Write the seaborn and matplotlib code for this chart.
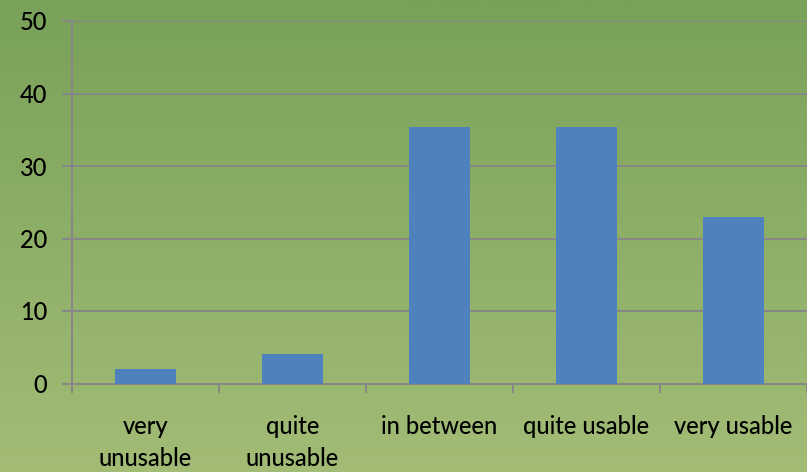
import numpy as np
import pandas as pd
import matplotlib
matplotlib.use("Agg")
import matplotlib.pyplot as plt
import seaborn as sns
from matplotlib.colors import LinearSegmentedColormap

categories = ["very\nunusable", "quite\nunusable", "in between", "quite usable", "very usable"]
values = [2.0, 4.1, 35.4, 35.4, 22.9]
y_ticks = [0, 10, 20, 30, 40, 50]

df = pd.DataFrame({"category": categories, "value": values})

sns.set_theme(style="white")
plt.rcParams["font.family"] = ["Lato", "DejaVu Sans"]

fig = plt.figure(figsize=(8.07, 4.72), dpi=100)

# green vertical gradient behind everything
bg = fig.add_axes([0, 0, 1, 1], zorder=0)
grad = np.linspace(0, 1, 256).reshape(-1, 1)
cmap = LinearSegmentedColormap.from_list("bg", ["#79a159", "#a2bc76"])
bg.imshow(grad, aspect="auto", cmap=cmap, extent=[0, 1, 0, 1], origin="upper")
bg.set_axis_off()

ax = fig.add_axes([72 / 807, 88.5 / 472, 1 - 72 / 807, 362.5 / 472], zorder=1)
ax.set_facecolor("none")

sns.barplot(data=df, x="category", y="value", color="#4f81bd", width=0.41,
            saturation=1, linewidth=0, ax=ax, zorder=3)

grid_c = "#878787"
ax.set_ylim(0, 50)
ax.set_xlim(-0.5, len(categories) - 0.5)
ax.set_yticks(y_ticks)
ax.set_yticklabels([str(t) for t in y_ticks], fontsize=17, color="black",
                   fontweight="medium")
ax.yaxis.grid(True, color=grid_c, linewidth=1.4, zorder=0)
ax.set_axisbelow(True)

# category separators as major ticks, labels on minor ticks
ax.set_xticks(np.arange(-0.5, len(categories) + 0.5, 1.0))
ax.set_xticklabels([])
ax.set_xticks(np.arange(len(categories)), minor=True)
ax.set_xticklabels(categories, minor=True, fontsize=17, linespacing=1.45,
                   color="black", fontweight="medium")
ax.tick_params(axis="x", which="major", direction="out", length=6.5, width=1.4,
               color=grid_c, bottom=True)
ax.tick_params(axis="x", which="minor", length=0, pad=23)
ax.tick_params(axis="y", direction="out", length=7, width=1.4, color=grid_c,
               left=True, pad=11)

ax.set_xlabel("")
ax.set_ylabel("")
for side in ["top", "right"]:
    ax.spines[side].set_visible(False)
for side in ["left", "bottom"]:
    ax.spines[side].set_color(grid_c)
    ax.spines[side].set_linewidth(1.4)

fig.savefig("out.png", dpi=100)
